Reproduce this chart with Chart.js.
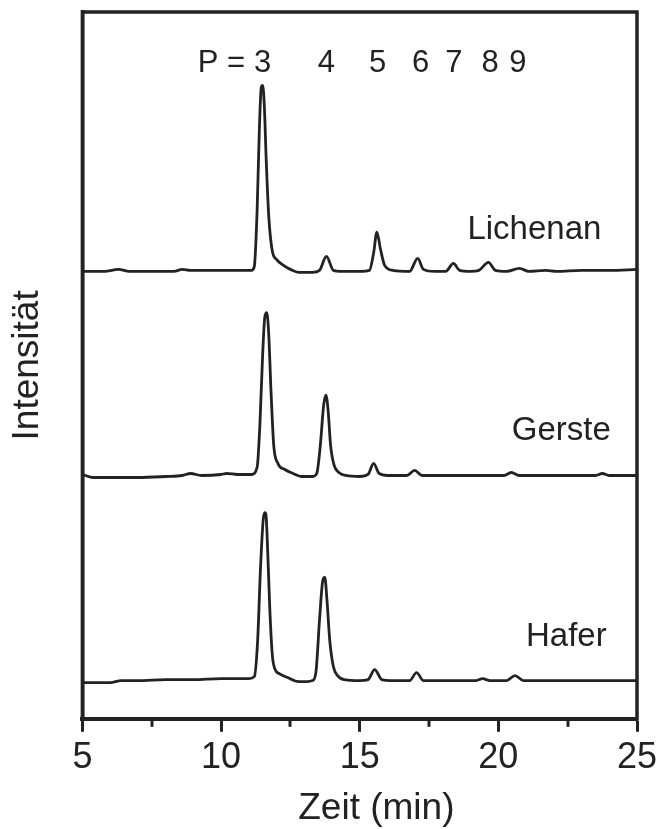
<!DOCTYPE html>
<html lang="de">
<head>
  <meta charset="UTF-8" />
  <title>Chromatogramme</title>
  <script src="https://cdn.jsdelivr.net/npm/chart.js"></script>
  <style>
    html, body { margin: 0; padding: 0; background: #fff; }
    #wrap { width: 656px; height: 829px; }
  </style>
</head>
<body>
<div id="wrap"><canvas id="chrom"></canvas></div>
<script>
  // Zeit (min) und Intensität relativ zur jeweiligen Basislinie
  const lichenanZeit = [5.0, 5.8, 6.3, 6.7, 7.5, 8.3, 8.6, 8.9, 9.4, 10.0,
    10.6, 11.1, 11.2, 11.3, 11.38, 11.45, 11.5, 11.56, 11.63, 11.72,
    11.85, 12.0, 12.2, 12.5, 12.8, 13.3, 13.55, 13.8, 14.05, 14.3,
    15.0, 15.35, 15.5, 15.62, 15.75, 15.9, 16.2, 16.8, 17.09, 17.3,
    17.7, 18.1, 18.38, 18.6, 19.0, 19.3, 19.64, 19.9, 20.3, 20.76,
    21.1, 21.7, 22.1, 23.0, 24.0, 25.0];
  const lichenanInt = [0, 0, 2, 0, 0, 0, 2, 1, 1, 1,
    1, 1, 5, 60, 140, 183, 185, 165, 110, 55,
    20, 12, 7, 2, -1, -1, 1, 15, 1, 0,
    0, 1, 18, 39, 22, 6, 1, 0, 13, 2,
    0, 0, 8, 1, 0, 1, 9, 1, 0, 3,
    0, 1, 0, 1, 1, 2];

  const gersteZeit = [5.0, 5.4, 6.0, 7.0, 8.0, 8.6, 8.9, 9.3, 10.0, 10.2,
    10.6, 11.1, 11.3, 11.4, 11.5, 11.58, 11.65, 11.72, 11.8, 11.9,
    12.05, 12.3, 12.6, 12.9, 13.3, 13.45, 13.58, 13.7, 13.78, 13.86,
    13.95, 14.08, 14.25, 14.5, 15.0, 15.3, 15.5, 15.7, 16.0, 16.7,
    16.98, 17.25, 18.0, 19.0, 20.2, 20.47, 20.75, 21.5, 22.5, 23.5,
    23.75, 24.0, 25.0];
  const gersteInt = [1, -2, -2, -2, -1, 0, 2, 0, 1, 2,
    1, 1, 8, 50, 120, 158, 162, 140, 85, 30,
    12, 6, 2, -1, -1, 2, 30, 70, 80, 65,
    30, 10, 3, 0, -1, 1, 12, 2, 0, 0,
    5, 0, 0, 0, 0, 3, 0, 0, 0, 0,
    2, 0, 0];

  const haferZeit = [5.0, 6.0, 6.4, 7.0, 8.0, 9.0, 10.0, 10.5, 11.0, 11.2,
    11.32, 11.42, 11.52, 11.58, 11.62, 11.68, 11.76, 11.85, 11.95, 12.1,
    12.4, 12.8, 13.1, 13.3, 13.42, 13.55, 13.66, 13.74, 13.82, 13.92,
    14.05, 14.2, 14.45, 15.0, 15.3, 15.54, 15.8, 16.2, 16.8, 17.05,
    17.3, 18.0, 19.2, 19.43, 19.7, 20.3, 20.6, 20.9, 22.0, 23.0,
    24.0, 25.0];
  const haferInt = [-2, -2, 0, 0, 1, 1, 2, 2, 2, 4,
    40, 110, 160, 167, 165, 130, 70, 25, 11, 7,
    3, -1, -1, 0, 8, 60, 98, 103, 80, 40,
    14, 5, 1, 0, 1, 11, 1, 0, 0, 8,
    0, 0, 0, 2, 0, 0, 5, 0, 0, 0,
    0, 0];

  const probenNamen = ['Lichenan', 'Gerste', 'Hafer'];
  const basisVersatz = [445, 242, 38];   // Basislinie jeder Spur (Intensitätseinheiten)

  // Polymerisationsgrad über den Peaks
  const peakP = ['3', '4', '5', '6', '7', '8', '9'];
  const peakZeit = [11.5, 13.8, 15.65, 17.2, 18.4, 19.7, 20.7];

  const xTicks = [5, 10, 15, 20, 25];
  const xMinorTicks = [7.5, 12.5, 17.5, 22.5];

  const schrift = "'Liberation Sans', Arial, sans-serif";
  const farbe = '#222';

  function spur(zeit, werte, versatz) {
    return zeit.map((t, i) => ({ x: t, y: versatz + werte[i] }));
  }

  const spuren = [
    spur(lichenanZeit, lichenanInt, basisVersatz[0]),
    spur(gersteZeit, gersteInt, basisVersatz[1]),
    spur(haferZeit, haferInt, basisVersatz[2])
  ];

  // Rahmen, Nebenstriche und Beschriftungen
  const extras = {
    id: 'extras',
    afterDraw(chart) {
      const { ctx, chartArea: a, scales } = chart;
      const x = scales.x, y = scales.y;
      ctx.save();
      ctx.strokeStyle = farbe;
      ctx.lineWidth = 3.5;
      ctx.strokeRect(a.left, a.top, a.right - a.left, a.bottom - a.top);

      ctx.lineWidth = 3;
      xMinorTicks.forEach(v => {
        const px = Math.round(x.getPixelForValue(v));
        ctx.beginPath();
        ctx.moveTo(px, a.bottom);
        ctx.lineTo(px, a.bottom + 8);
        ctx.stroke();
      });

      ctx.fillStyle = farbe;
      ctx.textBaseline = 'middle';
      ctx.font = '31px ' + schrift;
      const pyP = y.getPixelForValue(652);
      peakP.forEach((p, i) => {
        ctx.textAlign = 'center';
        ctx.fillText(p, x.getPixelForValue(peakZeit[i]), pyP);
      });
      ctx.textAlign = 'right';
      ctx.fillText('P = ', x.getPixelForValue(peakZeit[0]) - 9, pyP);

      ctx.font = '33px ' + schrift;
      ctx.textAlign = 'center';
      const labelPos = [[21.3, 486], [22.27, 286], [22.45, 81]];
      probenNamen.forEach((n, i) => {
        ctx.fillText(n, x.getPixelForValue(labelPos[i][0]), y.getPixelForValue(labelPos[i][1]));
      });

      // Achsentitel x, im Original etwas nach rechts versetzt
      ctx.font = '37px ' + schrift;
      ctx.fillText('Zeit (min)', x.getPixelForValue(15.6), chart.height - 20);
      ctx.restore();
    }
  };

  new Chart(document.getElementById('chrom'), {
    type: 'line',
    data: {
      datasets: spuren.map((d, i) => ({
        label: probenNamen[i],
        data: d,
        borderColor: farbe,
        borderWidth: 2.8,
        pointRadius: 0,
        cubicInterpolationMode: 'monotone',
        fill: false
      }))
    },
    options: {
      responsive: true,
      maintainAspectRatio: false,
      animation: false,
      layout: { padding: { top: 12, right: 0, left: 6, bottom: 44 } },
      plugins: { legend: { display: false }, tooltip: { enabled: false } },
      scales: {
        x: {
          type: 'linear',
          min: 5,
          max: 25,
          afterBuildTicks: s => { s.ticks = xTicks.map(v => ({ value: v })); },
          afterFit: s => { s.paddingRight = 19; },
          ticks: {
            color: farbe,
            padding: 5,
            font: { family: schrift, size: 36 }
          },
          grid: { display: true, drawOnChartArea: false, drawTicks: true, tickLength: 13, tickWidth: 3, tickColor: farbe },
          border: { display: true, color: farbe, width: 4 },
          title: { display: false }
        },
        y: {
          min: 0,
          max: 703,
          ticks: { display: false },
          grid: { display: false, drawTicks: false },
          border: { display: true, color: farbe, width: 3.5 },
          title: {
            display: true,
            text: 'Intensität',
            color: farbe,
            font: { family: schrift, size: 37 },
            padding: { top: 0, bottom: 32 }
          }
        }
      }
    },
    plugins: [extras]
  });
</script>
</body>
</html>
